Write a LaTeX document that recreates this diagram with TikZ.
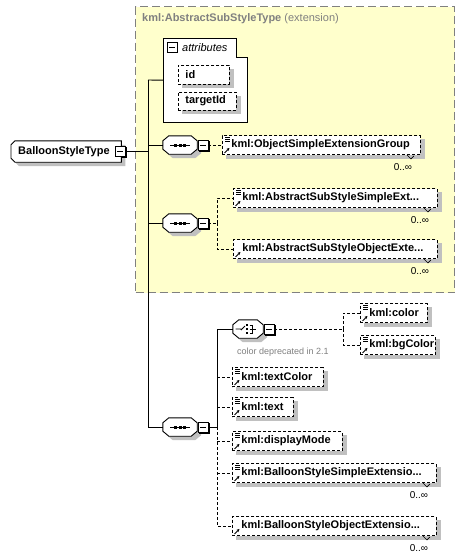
\documentclass[tikz,border=0pt]{standalone}
\usepackage{fontspec}
\setmainfont{Liberation Sans}
\usetikzlibrary{calc,arrows.meta}
\pgfdeclarelayer{bg}
\pgfdeclarelayer{shad}
\pgfdeclarelayer{fills}
\pgfsetlayers{bg,shad,fills,main}
\definecolor{extfill}{HTML}{FFFFCC}
\definecolor{extline}{HTML}{808080}
\definecolor{shgray}{HTML}{C0C0C0}
\definecolor{txtgray}{HTML}{808080}
\newcommand\elabel[1]{\mbox{\hspace*{9pt}#1}}
\newcommand\elfont{\fontsize{11}{13}\selectfont\bfseries}
\newcommand\multfont{\fontsize{10}{12}\selectfont}
\tikzset{
  conn/.style={line width=0.9pt},
  dconn/.style={line width=0.9pt, dash pattern=on 3pt off 2pt},
  elem/.style={draw, line width=0.9pt, dash pattern=on 3pt off 2pt, fill=white,
    minimum height=19pt, inner xsep=0pt, inner ysep=0pt, anchor=west, align=left,
    font=\elfont, text width=#1},
  seqnode/.style={minimum width=34pt, minimum height=18pt, inner sep=0pt},
  minusbox/.style={draw, line width=0.9pt, fill=white, minimum size=10pt, inner sep=0pt,
    path picture={\draw[line width=0.9pt] ([xshift=2pt]path picture bounding box.west) -- ([xshift=-2pt]path picture bounding box.east);}},
  mult/.style={font=\multfont, inner sep=0pt},
}
% shadows
\newcommand\shad[1]{\begin{pgfonlayer}{shad}\fill[shgray] ($(#1.north west)+(4,4)$) rectangle ($(#1.south east)+(4,4)$);\end{pgfonlayer}}
\newcommand\mshad[1]{\begin{pgfonlayer}{shad}\fill[black] ($(#1.north west)+(1.4,1.4)$) rectangle ($(#1.south east)+(1.4,1.4)$);\end{pgfonlayer}}
\newcommand\octpath[2]{($(#1.north west)+(#2+6,#2)$) -- ($(#1.north east)+(#2-6,#2)$) -- ($(#1.north east)+(#2,#2+5)$)
  -- ($(#1.south east)+(#2,#2-5)$) -- ($(#1.south east)+(#2-6,#2)$) -- ($(#1.south west)+(#2+6,#2)$)
  -- ($(#1.south west)+(#2,#2-5)$) -- ($(#1.north west)+(#2,#2+5)$) -- cycle}
\newcommand\octa[1]{\begin{pgfonlayer}{shad}\fill[shgray] \octpath{#1}{4};\end{pgfonlayer}
  \begin{pgfonlayer}{fills}\draw[conn, fill=white] \octpath{#1}{0};\end{pgfonlayer}}
% element decorations
\newcommand\elicon[1]{\draw[line width=0.8pt] ($(#1.north west)+(3,2)$) -- +(5,0) ($(#1.north west)+(3,4)$) -- +(5,0) ($(#1.north west)+(3,6)$) -- +(5,0);}
\newcommand\elarrow[1]{\draw[line width=0.9pt, -{Stealth[length=3pt,width=3pt]}] ($(#1.south west)+(2.5,-2)$) -- ($(#1.south west)+(7.5,-7)$);}
\newcommand\elmult[1]{\draw[line width=0.6pt] ($(#1.south east)+(-14,0)$) -- ($(#1.south east)+(-10,4)$) -- ($(#1.south east)+(-7,1)$);
  \node[mult] at ($(#1.south east)+(-18,12.5)$) {0..∞};}
\newcommand\seqicon[1]{\draw[line width=0.9pt] ($(#1.center)+(-10,0)$) -- ($(#1.center)+(10,0)$);
  \foreach \dx in {-4.5,0,4.5} {\fill ($(#1.center)+(\dx-1.5,-1.5)$) rectangle +(3,3);}}
\newcommand\choiceicon[1]{\draw[line width=0.9pt] ($(#1.center)+(-12.5,0)$) -- ($(#1.center)+(-7,0)$) ($(#1.center)+(-7,1)$) -- ($(#1.center)+(-3,-3)$);
  \foreach \dy in {-4,0,4} {\fill ($(#1.center)+(-2.2,\dy-1.2)$) rectangle +(2.6,2.6);}
  \draw[line width=0.9pt] ($(#1.center)+(1.5,-4)$) -- ($(#1.center)+(4.5,-4)$) -- ($(#1.center)+(4.5,4)$) -- ($(#1.center)+(1.5,4)$)
    ($(#1.center)+(1.5,0)$) -- ($(#1.center)+(8,0)$);}
\begin{document}
\begin{tikzpicture}[x=1pt,y=-1pt]
\useasboundingbox (0,0) rectangle (472,560);
\begin{pgfonlayer}{bg}
\fill[white] (0,0) rectangle (472,560);
\node[draw=extline, fill=extfill, line width=1.2pt, dash pattern=on 8pt off 4pt,
  minimum width=319pt, minimum height=286pt, inner sep=0pt, anchor=north west] (ext) at (135,6) {};
\end{pgfonlayer}
\node[anchor=west, inner sep=0pt, text=txtgray, font=\fontsize{11}{13}\selectfont] (exttitle) at (142,19)
  {\textbf{kml:AbstractSubStyleType} (extension)};
% trunk
\coordinate (tTop) at (148,80);
\coordinate (tBot) at (148,427);
\draw[conn] (tTop) -- (tBot);
% attributes
\node[minimum width=84pt, minimum height=84pt, inner sep=0pt, anchor=north west] (attr) at (163,38) {};
\begin{pgfonlayer}{bg}
\draw[conn, fill=white] (attr.north west) -- ($(attr.north west)+(73,0)$) -- ($(attr.north west)+(73,19)$)
  -- ($(attr.north east)+(0,19)$) -- (attr.south east) -- (attr.south west) -- cycle;
\end{pgfonlayer}
\node[minusbox] (am) at (172,47.5) {};
\node[anchor=west, inner sep=0pt, font=\fontsize{11}{13}\selectfont\itshape] (attrlbl) at (182,47.5) {attributes};
\node[elem=51pt] (aid) at (178,74.5) {\mbox{\hspace*{7pt}id}};
\shad{aid}
\node[elem=58pt, minimum height=18pt] (atid) at (178,101) {\mbox{\hspace*{7pt}targetId}};
\shad{atid}
\draw[conn] (tTop) -- (attr.west);
% root
\node[minimum width=110pt, minimum height=21pt, text width=100pt, inner xsep=0pt, inner ysep=0pt,
  align=left, anchor=west, font=\elfont] (bst) at (11,151.5) {\mbox{\hspace*{2pt}BalloonStyleType}};
\begin{pgfonlayer}{shad}
\fill[shgray] ($(bst.north west)+(8,4)$) -- ($(bst.north east)+(4,4)$) -- ($(bst.south east)+(4,4)$)
  -- ($(bst.south west)+(8,4)$) -- ($(bst.south west)+(4,0)$) -- ($(bst.north west)+(4,8)$) -- cycle;
\end{pgfonlayer}
\begin{pgfonlayer}{fills}
\draw[conn, fill=white] ($(bst.north west)+(4,0)$) -- (bst.north east) -- (bst.south east)
  -- ($(bst.south west)+(4,0)$) -- ($(bst.south west)+(0,-4)$) -- ($(bst.north west)+(0,4)$) -- cycle;
\end{pgfonlayer}
\node[minusbox] (m0) at (120,151.5) {};
\mshad{m0}
\draw[conn] (m0.east) -- (m0.east -| tTop);
% sequence 1
\node[seqnode] (s1) at (180,145) {};
\octa{s1}\seqicon{s1}
\node[minusbox] (m1) at (203,145) {};
\mshad{m1}
\draw[conn] (s1.west -| tTop) -- (s1.west);
\node[elem=198pt] (e1) at (222,145) {\elabel{kml:ObjectSimpleExtensionGroup}};
\shad{e1}\elicon{e1}\elarrow{e1}\elmult{e1}
\draw[dconn] (m1.east) -- (e1.west);
% sequence 2
\node[seqnode] (s2) at (180,223) {};
\octa{s2}\seqicon{s2}
\node[minusbox] (m2) at (203,223) {};
\mshad{m2}
\draw[conn] (s2.west -| tTop) -- (s2.west);
\coordinate (b2) at (217,223);
\node[elem=204pt] (e2) at (233,198) {\elabel{kml:AbstractSubStyleSimpleExt...}};
\shad{e2}\elicon{e2}\elarrow{e2}\elmult{e2}
\node[elem=204pt] (e3) at (233,249) {\elabel{kml:AbstractSubStyleObjectExte...}};
\shad{e3}\elarrow{e3}\elmult{e3}
\draw[dconn] (m2.east) -- (b2);
\draw[dconn] (b2) |- (e2.west);
\draw[dconn] (b2) |- (e3.west);
% sequence 3
\node[seqnode] (s3) at (180,427) {};
\octa{s3}\seqicon{s3}
\node[minusbox] (m3) at (203,427) {};
\mshad{m3}
\draw[conn] (s3.west -| tTop) -- (s3.west);
\coordinate (b3) at (217,427);
% choice
\node[seqnode, minimum width=30pt] (c) at (248,329) {};
\octa{c}\choiceicon{c}
\node[minusbox] (mc) at (269,329) {};
\mshad{mc}
\node[anchor=west, inner sep=0pt, text=txtgray, font=\fontsize{9}{11}\selectfont] (cnote) at (237,352) {color deprecated in 2.1};
\coordinate (bc) at (343,329);
\node[elem=67pt] (ecol) at (360,313) {\elabel{kml:color}};
\shad{ecol}\elicon{ecol}\elarrow{ecol}
\node[elem=75pt] (ebg) at (360,345) {\elabel{kml:bgColor}};
\shad{ebg}\elicon{ebg}\elarrow{ebg}
\draw[dconn] (mc.east) -- (bc);
\draw[dconn] (bc) |- (ecol.west);
\draw[dconn] (bc) |- (ebg.west);
% elements of sequence 3
\node[elem=91pt] (etc) at (232,377) {\elabel{kml:textColor}};
\shad{etc}\elicon{etc}\elarrow{etc}
\node[elem=61pt] (etx) at (232,407) {\elabel{kml:text}};
\shad{etx}\elicon{etx}\elarrow{etx}
\node[elem=110pt] (edm) at (232,441) {\elabel{kml:displayMode}};
\shad{edm}\elicon{edm}\elarrow{edm}
\node[elem=204pt] (ebs) at (232,473) {\elabel{kml:BalloonStyleSimpleExtensio...}};
\shad{ebs}\elicon{ebs}\elarrow{ebs}\elmult{ebs}
\node[elem=204pt] (ebo) at (232,526) {\elabel{kml:BalloonStyleObjectExtensio...}};
\shad{ebo}\elarrow{ebo}\elmult{ebo}
\draw[conn] (m3.east) -- (b3);
\draw[conn] (b3) |- (c.west);
\draw[dconn] (b3) |- (ebo.west);
\draw[dconn] (etc.west -| b3) -- (etc.west);
\draw[dconn] (etx.west -| b3) -- (etx.west);
\draw[dconn] (edm.west -| b3) -- (edm.west);
\draw[dconn] (ebs.west -| b3) -- (ebs.west);
\end{tikzpicture}
\end{document}
